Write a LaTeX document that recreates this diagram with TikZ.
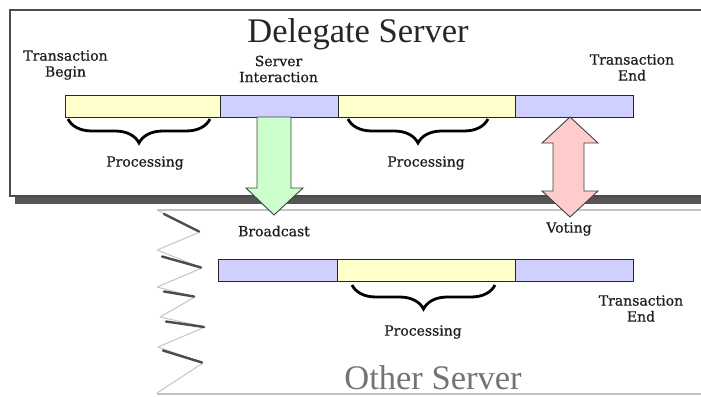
\documentclass[tikz,border=0pt]{standalone}
\usepackage{fontspec}
\setmainfont{Liberation Serif}
\newfontfamily\labelfont[FakeBold=0.7]{DejaVu Serif}
\usetikzlibrary{decorations.pathreplacing}
\definecolor{barY}{HTML}{FFFFCC}
\definecolor{barB}{HTML}{D0D0FF}
\definecolor{arrG}{HTML}{CCFFCC}
\definecolor{arrR}{HTML}{FFCCCC}
\definecolor{ink}{HTML}{1E1E1E}
\definecolor{edgeL}{HTML}{C4C4C4}
\definecolor{shadowC}{HTML}{555555}
\begin{document}
\begin{tikzpicture}[x=1pt,y=-1pt,
  seg/.style={draw=black!85, line width=0.9pt, minimum height=22pt, inner sep=0pt, anchor=north west},
  lab/.style={text=ink, align=center, inner sep=0pt, font=\labelfont\fontsize{14}{16}\selectfont},
  title/.style={anchor=base, inner sep=0pt, font=\fontsize{34.5}{36}\selectfont},
  curly/.style={decorate, decoration={brace, amplitude=24pt}, line width=2.8pt, black},
  blockarrow/.style={draw=black!75, line width=0.9pt, line join=miter}
]
\useasboundingbox (0,0) rectangle (701,396);
\clip (0,0) rectangle (701,396);

% delegate server panel with its drop shadow
\fill[shadowC] (15,196.5) rectangle (710,204);
\draw[black!70, line width=1.2pt, fill=white] (10,10) rectangle (720,196);

% other server panel: torn left edge
\draw[edgeL, line width=1.2pt] (157,210) -- (710,210);
\draw[edgeL, line width=1.2pt] (157,394) -- (710,394);
\draw[edgeL, line width=1pt, line join=bevel]
  (157,210) -- (200,232) -- (157,250) -- (202,268) -- (157,287) -- (195,297)
  -- (160,317) -- (205,327) -- (158,347) -- (203,363) -- (157,393);
\begin{scope}[black!70, line width=2.4pt, line cap=round]
  \draw (164,214) -- (199,231.5);
  \draw (162,256.5) -- (201,267.5);
  \draw (164,291.5) -- (194,296.5);
  \draw (166,321.5) -- (204,327);
  \draw (163,350.5) -- (202,362.5);
\end{scope}

% delegate server timeline
\node[seg, fill=barY, minimum width=155pt] (d1) at (65,95) {};
\node[seg, fill=barB, minimum width=118pt] (d2) at (220,95) {};
\node[seg, fill=barY, minimum width=177pt] (d3) at (338,95) {};
\node[seg, fill=barB, minimum width=118pt] (d4) at (515,95) {};

% other server timeline
\node[seg, fill=barB, minimum width=119pt] (o1) at (218,259) {};
\node[seg, fill=barY, minimum width=178pt] (o2) at (337,259) {};
\node[seg, fill=barB, minimum width=118pt] (o3) at (515,259) {};

% processing braces
\draw[curly] (210,119) -- (68,119);
\draw[curly] (488,119) -- (348,119);
\draw[curly] (495,285) -- (352,285);

% broadcast arrow
\draw[blockarrow, fill=arrG]
  (257,117) -- (291,117) -- (291,188) -- (303,188) -- (274,215)
  -- (246,188) -- (257,188) -- cycle;

% voting arrow
\draw[blockarrow, fill=arrR]
  (570,117) -- (598,143) -- (584,143) -- (584,191) -- (598,191) -- (570,217)
  -- (542,191) -- (553,191) -- (553,143) -- (542,143) -- cycle;

% titles
\node[title, text=black!85] (dtitle) at (358,43) {Delegate Server};
\node[title, text=black!55] (otitle) at (433,389) {Other Server};

% labels
\node[lab] (lbegin) at (65.5,65) {Transaction\\Begin};
\node[lab] (linter) at (278.5,69) {Server\\Interaction};
\node[lab] (lend1) at (632,67.5) {Transaction\\End};
\node[lab] (lproc1) at (145,163) {Processing};
\node[lab] (lproc2) at (426,163) {Processing};
\node[lab] (lbcast) at (274,231) {Broadcast};
\node[lab] (lvote) at (569,229) {Voting};
\node[lab] (lproc3) at (423,332) {Processing};
\node[lab] (lend2) at (641,308.5) {Transaction\\End};
\end{tikzpicture}
\end{document}
